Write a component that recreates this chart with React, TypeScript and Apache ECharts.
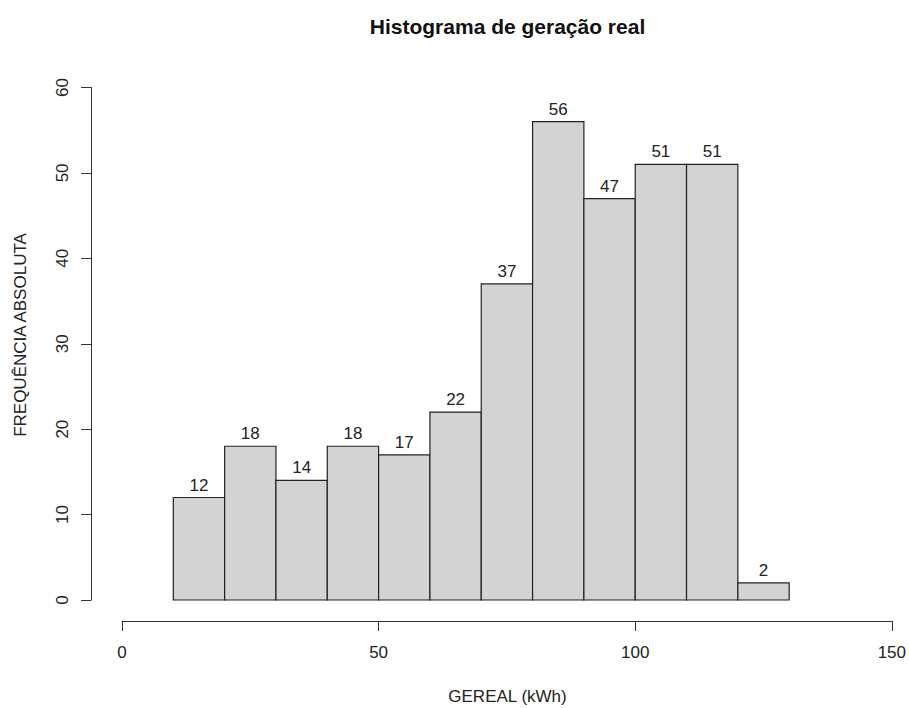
import React, { useEffect, useRef } from "react";
import * as echarts from "echarts";

// Histogram bins of real generation (kWh): lower edge, upper edge, count
const binStarts = [10, 20, 30, 40, 50, 60, 70, 80, 90, 100, 110, 120];
const binEnds = [20, 30, 40, 50, 60, 70, 80, 90, 100, 110, 120, 130];
const counts = [12, 18, 14, 18, 17, 22, 37, 56, 47, 51, 51, 2];

const chartTitle = "Histograma de geração real";
const xName = "GEREAL (kWh)";
const yName = "FREQUÊNCIA ABSOLUTA";

const FONT = "Liberation Sans, Arial, Helvetica, sans-serif";
const INK = "#222222";

export default function App() {
  const ref = useRef<HTMLDivElement>(null);

  useEffect(() => {
    document.body.style.margin = "0";
    if (!ref.current) return;
    const chart = echarts.init(ref.current, null, { renderer: "svg" });

    const data = binStarts.map((s, i) => [s, binEnds[i], counts[i]]);

    chart.setOption({
      animation: false,
      backgroundColor: "#ffffff",
      grid: { left: 122, right: 17, top: 87.5, bottom: 108, containLabel: false },
      xAxis: {
        type: "value",
        min: 0,
        max: 150,
        interval: 50,
        offset: 21,
        splitLine: { show: false },
        axisLine: { show: true, onZero: false, lineStyle: { color: "#333", width: 1 } },
        axisTick: { show: true, length: 10, lineStyle: { color: "#333", width: 1 } },
        axisLabel: { margin: 23, fontSize: 17, color: INK, fontFamily: FONT },
      },
      yAxis: {
        type: "value",
        min: 0,
        max: 60,
        interval: 10,
        offset: 31,
        splitLine: { show: false },
        axisLine: { show: true, onZero: false, lineStyle: { color: "#333", width: 1 } },
        axisTick: { show: true, length: 10, lineStyle: { color: "#333", width: 1 } },
        axisLabel: { margin: 20, rotate: 90, fontSize: 17, color: INK, fontFamily: FONT },
      },
      graphic: [
        {
          type: "text",
          x: 507.5,
          y: 26,
          style: {
            text: chartTitle,
            font: `bold 21px ${FONT}`,
            fill: "#111",
            textAlign: "center",
            textVerticalAlign: "middle",
          },
        },
        {
          type: "text",
          x: 507.5,
          y: 696,
          style: {
            text: xName,
            font: `17px ${FONT}`,
            fill: INK,
            textAlign: "center",
            textVerticalAlign: "middle",
          },
        },
        {
          type: "text",
          x: 20,
          y: 335,
          rotation: Math.PI / 2,
          style: {
            text: yName,
            font: `17px ${FONT}`,
            fill: INK,
            textAlign: "center",
            textVerticalAlign: "middle",
          },
        },
      ],
      series: [
        {
          type: "custom",
          data,
          clip: false,
          renderItem: (params: any, api: any) => {
            const x0 = api.value(0);
            const x1 = api.value(1);
            const c = api.value(2);
            const topLeft = api.coord([x0, c]);
            const bottomRight = api.coord([x1, 0]);
            const w = bottomRight[0] - topLeft[0];
            const h = bottomRight[1] - topLeft[1];
            return {
              type: "group",
              children: [
                {
                  type: "rect",
                  shape: { x: topLeft[0], y: topLeft[1], width: w, height: h },
                  style: { fill: "#d3d3d3", stroke: INK, lineWidth: 1.2 },
                },
                {
                  type: "text",
                  x: topLeft[0] + w / 2,
                  y: topLeft[1] - 4,
                  style: {
                    text: String(c),
                    font: `17px ${FONT}`,
                    fill: INK,
                    textAlign: "center",
                    textVerticalAlign: "bottom",
                  },
                },
              ],
            };
          },
        },
      ],
    });

    return () => chart.dispose();
  }, []);

  return <div ref={ref} style={{ width: 909, height: 708 }} />;
}
